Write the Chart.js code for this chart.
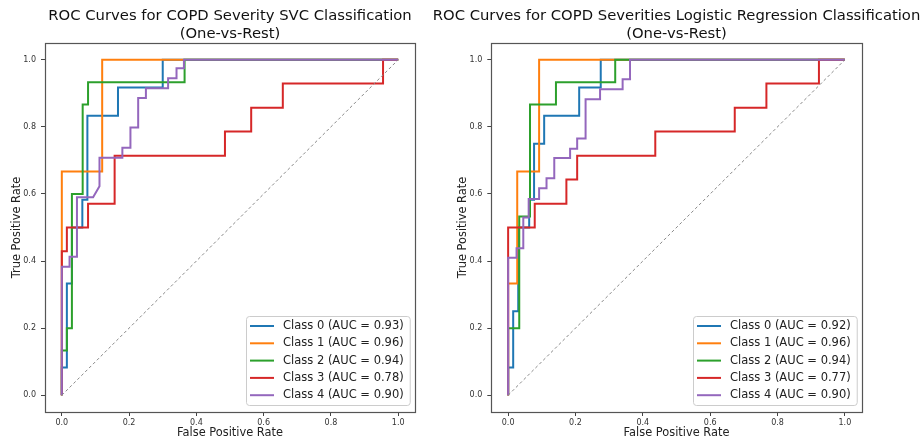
<!DOCTYPE html>
<html><head><meta charset="utf-8">
<script src="https://cdn.jsdelivr.net/npm/chart.js@4.4.1/dist/chart.umd.min.js"></script>
<style>
html,body{margin:0;padding:0;background:#fff;width:921px;height:439px;overflow:hidden}
.box{position:absolute;top:0;height:439px}
#b1{left:0;width:420px}
#b2{left:420px;width:501px}
</style></head><body>
<div class="box" id="b1"><canvas id="c1" width="420" height="439"></canvas></div>
<div class="box" id="b2"><canvas id="c2" width="501" height="439"></canvas></div>
<script>
// ---- tick labels ----
const axisTicks = [0, 0.2, 0.4, 0.6, 0.8, 1.0];
const classLabels = ['Class 0', 'Class 1', 'Class 2', 'Class 3', 'Class 4'];
const diagX = [0, 1];
const diagY = [0, 1];

// ---- SVC (left) ----
const svcTitle = ['ROC Curves for COPD Severity SVC Classification', '(One-vs-Rest)'];
const svcAuc = [0.93, 0.96, 0.94, 0.78, 0.90];
const svcC0Fpr = [0, 0, 0.015, 0.015, 0.03, 0.03, 0.061, 0.061, 0.076, 0.076, 0.167, 0.167, 0.30, 0.30, 1];
const svcC0Tpr = [0, 0.083, 0.083, 0.333, 0.333, 0.5, 0.5, 0.583, 0.583, 0.833, 0.833, 0.917, 0.917, 1, 1];
const svcC1Fpr = [0, 0, 0.12, 0.12, 1];
const svcC1Tpr = [0, 0.667, 0.667, 1, 1];
const svcC2Fpr = [0, 0, 0.015, 0.015, 0.03, 0.03, 0.062, 0.062, 0.078, 0.078, 0.365, 0.365, 1];
const svcC2Tpr = [0, 0.133, 0.133, 0.2, 0.2, 0.6, 0.6, 0.867, 0.867, 0.933, 0.933, 1, 1];
const svcC3Fpr = [0, 0, 0.015, 0.015, 0.078, 0.078, 0.157, 0.157, 0.485, 0.485, 0.563, 0.563, 0.657, 0.657, 0.955, 0.955, 1];
const svcC3Tpr = [0, 0.429, 0.429, 0.5, 0.5, 0.571, 0.571, 0.714, 0.714, 0.786, 0.786, 0.857, 0.857, 0.929, 0.929, 1, 1];
const svcC4Fpr = [0, 0, 0.023, 0.023, 0.045, 0.045, 0.093, 0.112, 0.112, 0.18, 0.18, 0.204, 0.204, 0.227, 0.227, 0.25, 0.25, 0.316, 0.316, 0.341, 0.341, 0.363, 0.363, 1];
const svcC4Tpr = [0, 0.383, 0.383, 0.413, 0.413, 0.59, 0.59, 0.623, 0.708, 0.708, 0.738, 0.738, 0.798, 0.798, 0.886, 0.886, 0.915, 0.915, 0.945, 0.945, 0.975, 0.975, 1, 1];

// ---- Logistic Regression (right) ----
const lrTitle = ['ROC Curves for COPD Severities Logistic Regression Classification', '(One-vs-Rest)'];
const lrAuc = [0.92, 0.96, 0.94, 0.77, 0.90];
const lrC0Fpr = [0, 0, 0.015, 0.015, 0.03, 0.03, 0.0625, 0.0625, 0.077, 0.077, 0.107, 0.107, 0.211, 0.211, 0.275, 0.275, 1];
const lrC0Tpr = [0, 0.083, 0.083, 0.25, 0.25, 0.5, 0.5, 0.583, 0.583, 0.75, 0.75, 0.833, 0.833, 0.917, 0.917, 1, 1];
const lrC1Fpr = [0, 0, 0.027, 0.027, 0.092, 0.092, 1];
const lrC1Tpr = [0, 0.333, 0.333, 0.667, 0.667, 1, 1];
const lrC2Fpr = [0, 0, 0.033, 0.033, 0.065, 0.065, 0.142, 0.142, 0.318, 0.318, 1];
const lrC2Tpr = [0, 0.2, 0.2, 0.533, 0.533, 0.867, 0.867, 0.933, 0.933, 1, 1];
const lrC3Fpr = [0, 0, 0.079, 0.079, 0.173, 0.173, 0.205, 0.205, 0.437, 0.437, 0.673, 0.673, 0.767, 0.767, 0.923, 0.923, 1];
const lrC3Tpr = [0, 0.5, 0.5, 0.571, 0.571, 0.643, 0.643, 0.714, 0.714, 0.786, 0.786, 0.857, 0.857, 0.929, 0.929, 1, 1];
const lrC4Fpr = [0, 0, 0.025, 0.025, 0.045, 0.045, 0.061, 0.061, 0.092, 0.092, 0.114, 0.114, 0.137, 0.137, 0.184, 0.184, 0.205, 0.205, 0.23, 0.23, 0.273, 0.273, 0.34, 0.34, 0.362, 0.362, 1];
const lrC4Tpr = [0, 0.41, 0.41, 0.438, 0.438, 0.53, 0.53, 0.585, 0.585, 0.617, 0.617, 0.647, 0.647, 0.707, 0.707, 0.735, 0.735, 0.765, 0.765, 0.882, 0.882, 0.912, 0.912, 0.942, 0.942, 1, 1];

const colors = ['#1f77b4', '#ff7f0e', '#2ca02c', '#d62728', '#9467bd'];
const FONT = "'DejaVu Sans', 'Liberation Sans', sans-serif";
Chart.defaults.font.family = FONT;

function pts(xs, ys) { return xs.map((x, i) => ({x: x, y: ys[i]})); }

const frame = {
  id: 'frame',
  afterDraw(chart) {
    const {ctx, chartArea: a} = chart;
    ctx.save();
    ctx.strokeStyle = '#555';
    ctx.lineWidth = 1.2;
    const l = Math.round(a.left) + 0.5, t = Math.round(a.top) + 0.5;
    const r = Math.round(a.right) + 0.5, b = Math.round(a.bottom) + 0.5;
    ctx.strokeRect(l, t, r - l, b - t);
    ctx.restore();
  }
};

const legendBox = {
  id: 'legendBox',
  afterDraw(chart) {
    const {ctx, chartArea: a} = chart;
    const items = chart.data.datasets.filter(d => d.inLegend);
    ctx.save();
    ctx.font = "11.5px " + FONT;
    const tw = Math.max(...items.map(d => ctx.measureText(d.label).width));
    const rowH = 17.3;
    const w = 4 + 24 + 9 + tw + 6;
    const h = items.length * rowH + 2.5;
    const x = Math.round(a.right - 5 - w), y = Math.round(a.bottom - 7 - h);
    ctx.fillStyle = 'rgba(255,255,255,0.8)';
    ctx.strokeStyle = '#cccccc';
    ctx.lineWidth = 1;
    ctx.beginPath();
    ctx.roundRect(x + 0.5, y + 0.5, w, h, 3);
    ctx.fill();
    ctx.stroke();
    items.forEach((d, i) => {
      const cy = y + 10 + i * rowH;
      ctx.strokeStyle = d.borderColor;
      ctx.lineWidth = 2;
      ctx.beginPath();
      ctx.moveTo(x + 4, cy);
      ctx.lineTo(x + 28, cy);
      ctx.stroke();
      ctx.fillStyle = '#222';
      ctx.textBaseline = 'middle';
      ctx.textAlign = 'left';
      ctx.fillText(d.label, x + 37, cy);
    });
    ctx.restore();
  }
};

const centerTitle = {
  id: 'centerTitle',
  afterLayout(chart) {
    const t = chart.titleBlock;
    if (!t) return;
    const c = (chart.chartArea.left + chart.chartArea.right) / 2;
    t.left = c - 300; t.right = c + 300; t.width = 600;
  }
};

function axis(titleText, isX) {
  const o = {
    type: 'linear', min: -0.05, max: 1.05,
    afterBuildTicks: s => { s.ticks = axisTicks.map(v => ({value: v})); },
    ticks: {
      callback: v => Number(v).toFixed(1),
      font: {size: 8}, color: '#333', padding: isX ? 2 : 5,
      maxRotation: 0, autoSkip: false
    },
    grid: {drawOnChartArea: false, drawTicks: true, tickLength: 4, color: '#444'},
    border: {display: false},
    title: {
      display: true, text: titleText, color: '#222',
      font: {size: 11.4, lineHeight: isX ? 1 : 1.2},
      padding: isX ? {top: 0, bottom: 0} : {top: 10, bottom: 0}
    }
  };
  if (isX) o.afterFit = s => { s.height = 27; };
  else o.afterFit = s => { s.width = 45; };
  return o;
}

function build(canvasId, title, auc, fprs, tprs, padL, padR) {
  const datasets = fprs.map((f, i) => ({
    label: classLabels[i] + ' (AUC = ' + auc[i].toFixed(2) + ')',
    data: pts(f, tprs[i]),
    borderColor: colors[i], backgroundColor: colors[i],
    borderWidth: 2, pointRadius: 0, showLine: true, fill: false, tension: 0,
    order: 10 - i, inLegend: true
  }));
  datasets.push({
    label: 'chance', data: pts(diagX, diagY),
    borderColor: '#888888', borderDash: [3, 2.5], borderWidth: 1,
    pointRadius: 0, showLine: true, fill: false, order: 0, inLegend: false
  });
  return new Chart(document.getElementById(canvasId), {
    type: 'scatter',
    data: {datasets},
    options: {
      responsive: false, animation: false,
      layout: {padding: {left: padL, right: padR, top: 0, bottom: 0}},
      plugins: {
        legend: {display: false},
        tooltip: {enabled: false},
        title: {
          display: true, text: title, color: '#111', fullSize: true,
          font: {size: 14.8, weight: 'normal', lineHeight: '18px'},
          padding: {top: 7, bottom: 0}
        }
      },
      scales: {x: axis('False Positive Rate', true), y: axis('True Positive Rate', false)}
    },
    plugins: [centerTitle, frame, legendBox]
  });
}

build('c1', svcTitle, svcAuc,
  [svcC0Fpr, svcC1Fpr, svcC2Fpr, svcC3Fpr, svcC4Fpr],
  [svcC0Tpr, svcC1Tpr, svcC2Tpr, svcC3Tpr, svcC4Tpr], 0, 5);
build('c2', lrTitle, lrAuc,
  [lrC0Fpr, lrC1Fpr, lrC2Fpr, lrC3Fpr, lrC4Fpr],
  [lrC0Tpr, lrC1Tpr, lrC2Tpr, lrC3Tpr, lrC4Tpr], 26.3, 59.3);
</script>
</body></html>
